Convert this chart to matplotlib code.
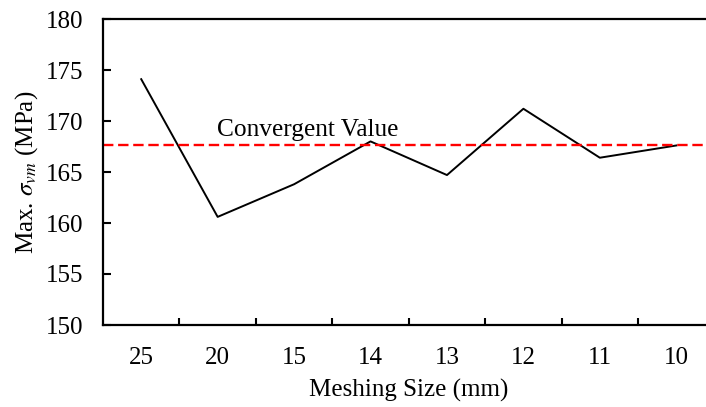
"""Mesh convergence plot: max von Mises stress vs meshing size."""

import matplotlib
matplotlib.use("Agg")
import matplotlib.pyplot as plt
import numpy as np

mesh_sizes = ["25", "20", "15", "14", "13", "12", "11", "10"]
max_stress = [174.1, 160.6, 163.8, 168.0, 164.7, 171.2, 166.4, 167.6]
convergent_value = 167.6

plt.rcParams["font.family"] = ["Liberation Serif", "DejaVu Serif"]
plt.rcParams["mathtext.fontset"] = "stix"


def main() -> None:
    fig = plt.figure(figsize=(7.06, 4.07), dpi=100)
    ax = fig.add_axes([103 / 706, 82 / 407, 611.5 / 706, 306 / 407])

    x = np.arange(len(mesh_sizes))
    ax.plot(x, max_stress, color="black", lw=1.4)
    ax.axhline(convergent_value, color="#ff0000", lw=1.7, dashes=(4.4, 2.0))
    ax.text(0.99, 168.5, "Convergent Value", fontsize=18.3, ha="left", va="baseline")

    ax.set_xlim(-0.5, len(mesh_sizes) - 0.5)
    ax.set_ylim(150, 180)
    ax.set_yticks(np.arange(150, 181, 5))
    ax.set_xticks(x)
    ax.set_xticklabels(mesh_sizes)
    ax.set_xticks(x[:-1] + 0.5, minor=True)

    ax.tick_params(axis="x", which="major", length=0, pad=16, labelsize=18)
    ax.tick_params(axis="x", which="minor", direction="in", length=5, width=1.5)
    ax.tick_params(axis="y", direction="in", length=6, width=1.5, pad=14, labelsize=18)

    for side in ("left", "top", "bottom"):
        ax.spines[side].set_linewidth(1.6)
    ax.spines["right"].set_visible(False)

    ax.set_xlabel("Meshing Size (mm)", fontsize=18, labelpad=7)
    ax.set_ylabel(r"Max. $\sigma_{vm}$ (MPa)", fontsize=18, labelpad=4)

    fig.savefig("out.png", dpi=100)
    plt.close(fig)


if __name__ == "__main__":
    main()
